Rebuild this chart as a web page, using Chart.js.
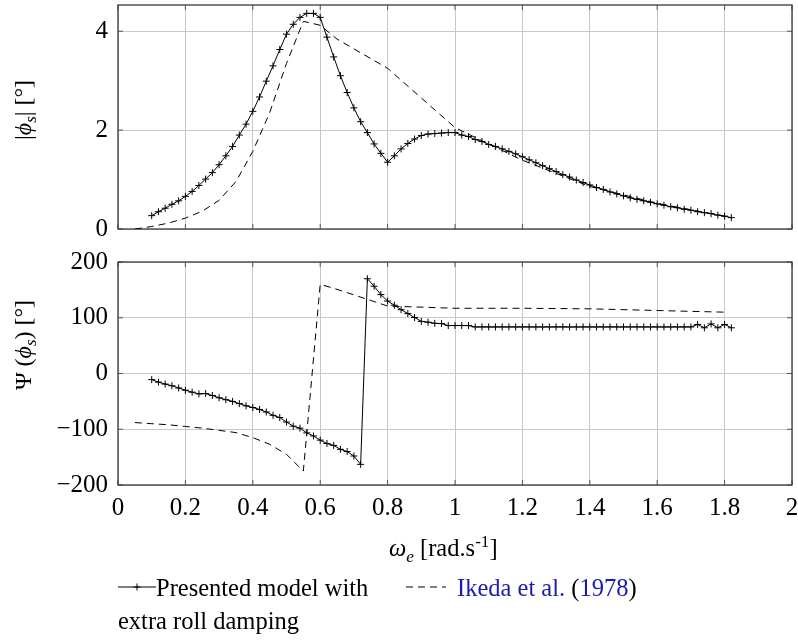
<!DOCTYPE html>
<html lang="en">
<head>
<meta charset="UTF-8">
<title>Roll amplitude and phase</title>
<script src="https://cdn.jsdelivr.net/npm/chart.js"></script>
<style>
  body { margin: 0; background: #fff; }
  #wrap { position: relative; width: 798px; height: 641px; font-family: 'Liberation Serif', 'DejaVu Serif', serif; color: #000; }
  canvas { position: absolute; left: 0; }
  #ampChart { top: 0; }
  #phaseChart { top: 246px; }
  .ytitle { position: absolute; font-size: 24px; white-space: nowrap; transform: translate(-50%, -50%) rotate(-90deg); }
  .txt { position: absolute; font-size: 24.5px; white-space: nowrap; line-height: 1; }
  .ref { color: #1a1ab0; }
  sub, sup { font-size: 70%; line-height: 0; }
  svg { position: absolute; }
</style>
</head>
<body>
<div id="wrap">
  <canvas id="ampChart" width="798" height="246"></canvas>
  <canvas id="phaseChart" width="798" height="395"></canvas>

  <div class="ytitle" style="left:23px; top:110px;">|<i>ϕ</i><sub><i>s</i></sub>| [°]</div>
  <div class="ytitle" style="left:23px; top:345px;">Ψ (<i>ϕ</i><sub><i>s</i></sub>) [°]</div>
  <div class="txt" style="left:389px; top:536px;"><i>ω</i><sub><i>e</i></sub> [rad.s<sup>-1</sup>]</div>

  <!-- legend -->
  <svg style="left:118px; top:580px;" width="40" height="14">
    <line x1="0" y1="7" x2="38" y2="7" stroke="#000" stroke-width="1"/>
    <path d="M19 3.5 V10.5 M15.5 7 H22.5" stroke="#000" stroke-width="1"/>
  </svg>
  <div class="txt" style="left:156px; top:576px;">Presented model with</div>
  <div class="txt" style="left:118px; top:609px;">extra roll damping</div>
  <svg style="left:406px; top:580px;" width="42" height="14">
    <line x1="0" y1="7" x2="40" y2="7" stroke="#000" stroke-width="1" stroke-dasharray="7 5"/>
  </svg>
  <div class="txt" style="left:457px; top:576px;"><span class="ref">Ikeda et al.</span> (<span class="ref">1978</span>)</div>
</div>

<script>
// presented model, sampled every 0.02 rad/s
const omegaModel = [0.10, 0.12, 0.14, 0.16, 0.18, 0.20, 0.22, 0.24, 0.26, 0.28,
  0.30, 0.32, 0.34, 0.36, 0.38, 0.40, 0.42, 0.44, 0.46, 0.48,
  0.50, 0.52, 0.54, 0.56, 0.58, 0.60, 0.62, 0.64, 0.66, 0.68,
  0.70, 0.72, 0.74, 0.76, 0.78, 0.80, 0.82, 0.84, 0.86, 0.88,
  0.90, 0.92, 0.94, 0.96, 0.98, 1.00, 1.02, 1.04, 1.06, 1.08,
  1.10, 1.12, 1.14, 1.16, 1.18, 1.20, 1.22, 1.24, 1.26, 1.28,
  1.30, 1.32, 1.34, 1.36, 1.38, 1.40, 1.42, 1.44, 1.46, 1.48,
  1.50, 1.52, 1.54, 1.56, 1.58, 1.60, 1.62, 1.64, 1.66, 1.68,
  1.70, 1.72, 1.74, 1.76, 1.78, 1.80, 1.82];
const ampModel = [0.27, 0.35, 0.42, 0.50, 0.57, 0.66, 0.76, 0.88, 1.01, 1.14,
  1.30, 1.48, 1.67, 1.90, 2.12, 2.38, 2.67, 2.99, 3.30, 3.63,
  3.94, 4.14, 4.28, 4.36, 4.36, 4.28, 3.88, 3.48, 3.10, 2.76,
  2.45, 2.17, 1.95, 1.72, 1.53, 1.35, 1.48, 1.62, 1.73, 1.82,
  1.89, 1.92, 1.93, 1.94, 1.95, 1.95, 1.90, 1.87, 1.81, 1.77,
  1.71, 1.67, 1.62, 1.57, 1.52, 1.46, 1.40, 1.34, 1.28, 1.22,
  1.16, 1.10, 1.05, 0.99, 0.94, 0.89, 0.84, 0.80, 0.75, 0.71,
  0.67, 0.63, 0.60, 0.57, 0.54, 0.51, 0.48, 0.45, 0.43, 0.40,
  0.38, 0.35, 0.33, 0.31, 0.28, 0.26, 0.23];
const phaseModel = [-11, -15.5, -19, -22, -26, -30, -33.5, -36.5, -36, -39.5,
  -43.5, -47, -50, -54, -58, -61, -64.5, -69, -75, -79,
  -87, -94.5, -98, -106.5, -112, -119.5, -125.5, -129, -136, -140,
  -148, -163, 170, 156.5, 141.5, 130, 122.5, 114.5, 107.5, 100.5,
  93.5, 92, 90, 89.5, 86, 86, 86, 86, 83.5, 83.5,
  83.5, 83.5, 83.5, 83.5, 83.5, 83.5, 83.5, 83.5, 83.5, 83.5,
  83.5, 83.5, 83.5, 83.5, 83.5, 83.5, 83.5, 83.5, 83.5, 83.5,
  83.5, 83.5, 83.5, 83.5, 83.5, 83.5, 83.5, 83.5, 83.5, 83.5,
  83.5, 88, 82, 89, 82, 88, 82];

// Ikeda et al. (1978)
const omegaIkeda = [0.05, 0.10, 0.15, 0.20, 0.25, 0.30, 0.35, 0.40, 0.45, 0.50,
  0.55, 0.60, 0.65, 0.80, 1.00, 1.20, 1.40, 1.60, 1.80];
const ampIkeda = [0, 0.05, 0.12, 0.22, 0.36, 0.58, 0.96, 1.57, 2.35, 3.35,
  4.20, 4.12, 3.84, 3.25, 2.05, 1.39, 0.86, 0.52, 0.26];
const phaseIkeda = [-88, -90, -92, -95, -98, -102, -106, -115, -127, -145,
  -175, 160, 151, 121, 117, 117, 116, 113, 110];

const xTicks = [0, 0.2, 0.4, 0.6, 0.8, 1, 1.2, 1.4, 1.6, 1.8, 2];

const pts = (xs, ys) => xs.map((x, i) => ({ x: x, y: ys[i] }));

Chart.defaults.font.family = "'Liberation Serif', 'DejaVu Serif', serif";
Chart.defaults.font.size = 25;
Chart.defaults.color = '#000';

const gridColor = '#c8c8c8';

// box round the plot area plus small inward tick marks on all four sides
const frame = {
  id: 'frame',
  beforeDatasetsDraw(chart) {
    const { ctx, chartArea: a, scales } = chart;
    ctx.save();
    ctx.strokeStyle = '#555';
    ctx.lineWidth = 1;
    ctx.beginPath();
    scales.x.ticks.forEach(t => {
      const px = scales.x.getPixelForValue(t.value);
      ctx.moveTo(px, a.bottom); ctx.lineTo(px, a.bottom - 5);
      ctx.moveTo(px, a.top); ctx.lineTo(px, a.top + 5);
    });
    scales.y.ticks.forEach(t => {
      const py = scales.y.getPixelForValue(t.value);
      ctx.moveTo(a.left, py); ctx.lineTo(a.left + 5, py);
      ctx.moveTo(a.right, py); ctx.lineTo(a.right - 5, py);
    });
    ctx.stroke();
    ctx.strokeStyle = '#3a3a3a';
    ctx.lineWidth = 1.3;
    ctx.strokeRect(a.left, a.top, a.right - a.left, a.bottom - a.top);
    ctx.restore();
  }
};

function modelSet(ys) {
  return {
    data: pts(omegaModel, ys),
    borderColor: '#000',
    borderWidth: 1,
    pointStyle: 'cross',
    pointRadius: 3.5,
    pointBorderWidth: 1,
    pointBorderColor: '#000',
    tension: 0
  };
}

function ikedaSet(ys) {
  return {
    data: pts(omegaIkeda, ys),
    borderColor: '#000',
    borderWidth: 1,
    borderDash: [7, 5],
    pointRadius: 0,
    tension: 0
  };
}

function xScale(showLabels) {
  return {
    type: 'linear',
    min: 0,
    max: 2,
    afterBuildTicks: s => { s.ticks = xTicks.map(v => ({ value: v })); },
    grid: { color: gridColor, drawTicks: false },
    border: { display: false },
    ticks: {
      display: showLabels,
      padding: 8,
      maxRotation: 0,
      callback: v => String(Math.round(v * 10) / 10)
    },
    afterFit: s => {
      s.height = showLabels ? 40 : 0;
      s.paddingLeft = 0;
      s.paddingRight = 0;
    }
  };
}

function yScale(min, max, step) {
  return {
    min: min,
    max: max,
    grid: { color: gridColor, drawTicks: false },
    border: { display: false },
    ticks: {
      stepSize: step,
      includeBounds: false,
      padding: 10,
      callback: v => String(v).replace('-', '\u2212')
    },
    afterFit: s => {
      s.width = 118;
      s.paddingTop = 0;
      s.paddingBottom = 0;
    }
  };
}

const common = {
  responsive: false,
  animation: false,
  plugins: { legend: { display: false }, tooltip: { enabled: false } }
};

new Chart(document.getElementById('ampChart'), {
  type: 'line',
  data: { datasets: [modelSet(ampModel), ikedaSet(ampIkeda)] },
  options: Object.assign({}, common, {
    layout: { padding: { top: 5, right: 6, bottom: 17, left: 0 } },
    scales: { x: xScale(false), y: yScale(0, 4.53, 2) }
  }),
  plugins: [frame]
});

new Chart(document.getElementById('phaseChart'), {
  type: 'line',
  data: { datasets: [modelSet(phaseModel), ikedaSet(phaseIkeda)] },
  options: Object.assign({}, common, {
    layout: { padding: { top: 16, right: 6, bottom: 116, left: 0 } },
    scales: { x: xScale(true), y: yScale(-200, 200, 100) }
  }),
  plugins: [frame]
});
</script>
</body>
</html>
